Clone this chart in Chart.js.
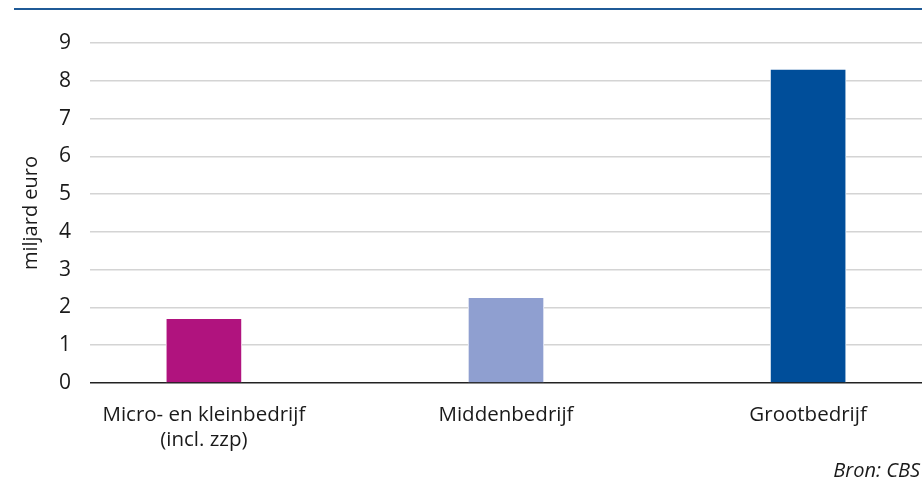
<!DOCTYPE html>
<html>
<head>
<meta charset="utf-8">
<script src="https://cdn.jsdelivr.net/npm/chart.js@4/dist/chart.umd.min.js"></script>
<style>
  body { margin: 0; background: #fff; }
  #wrap { position: relative; width: 922px; height: 481px; }
  #topline { position: absolute; left: 14px; right: 0; top: 8px; height: 2px; background: #1f5a97; }
  #source { position: absolute; right: 2px; top: 456px; font: italic 400 20px "Open Sans", sans-serif; color: #1a1a1a; }
</style>
</head>
<body>
<div id="wrap">
  <div id="topline"></div>
  <canvas id="myChart" width="922" height="481"></canvas>
  <div id="source">Bron: CBS</div>
</div>
<script>
// categories and values (miljard euro)
const categories = [['Micro- en kleinbedrijf', '(incl. zzp)'], 'Middenbedrijf', 'Grootbedrijf'];
const values = [1.71, 2.27, 8.31];
const barColors = ['#b0137e', '#8f9fd0', '#004e9a'];
const yTicks = [0, 1, 2, 3, 4, 5, 6, 7, 8, 9];

const font = { family: '"Open Sans", sans-serif', weight: 400 };

function drawChart() {
    const ctx = document.getElementById('myChart').getContext('2d');
    new Chart(ctx, {
        type: 'bar',
        data: {
            datasets: [{
                data: values.map((v, i) => ({ x: i, y: v })),
                backgroundColor: barColors,
                borderColor: '#ffffff',
                borderWidth: 1,
                barThickness: 76
            }]
        },
        options: {
            responsive: false,
            animation: false,
            layout: { padding: { top: 43, right: 0, left: 0, bottom: 0 } },
            plugins: { legend: { display: false }, tooltip: { enabled: false } },
            scales: {
                x: {
                    type: 'linear',
                    offset: false,
                    min: -0.377,
                    max: 2.377,
                    grid: { display: false, offset: false },
                    border: { display: false },
                    afterBuildTicks: scale => { scale.ticks = categories.map((c, i) => ({ value: i })); },
                    afterFit: scale => { scale.height = 98; },
                    ticks: {
                        padding: 12,
                        maxRotation: 0,
                        autoSkip: false,
                        color: '#1a1a1a',
                        font: { ...font, size: 20.5, lineHeight: 1.2 },
                        callback: v => categories[v]
                    }
                },
                y: {
                    min: 0,
                    max: 9,
                    afterBuildTicks: scale => { scale.ticks = yTicks.map(v => ({ value: v })); },
                    afterFit: scale => { scale.width = 90; },
                    border: { display: false },
                    grid: {
                        drawTicks: false,
                        color: c => c.tick.value === 0 ? '#222222' : '#d4d4d4',
                        lineWidth: 1.5
                    },
                    ticks: {
                        padding: 19,
                        color: '#1a1a1a',
                        font: { ...font, size: 21 }
                    },
                    title: {
                        display: true,
                        text: 'miljard euro',
                        color: '#1a1a1a',
                        font: { ...font, size: 20 },
                        padding: { top: 19, bottom: 0 }
                    }
                }
            }
        }
    });
}

drawChart();
</script>
</body>
</html>
